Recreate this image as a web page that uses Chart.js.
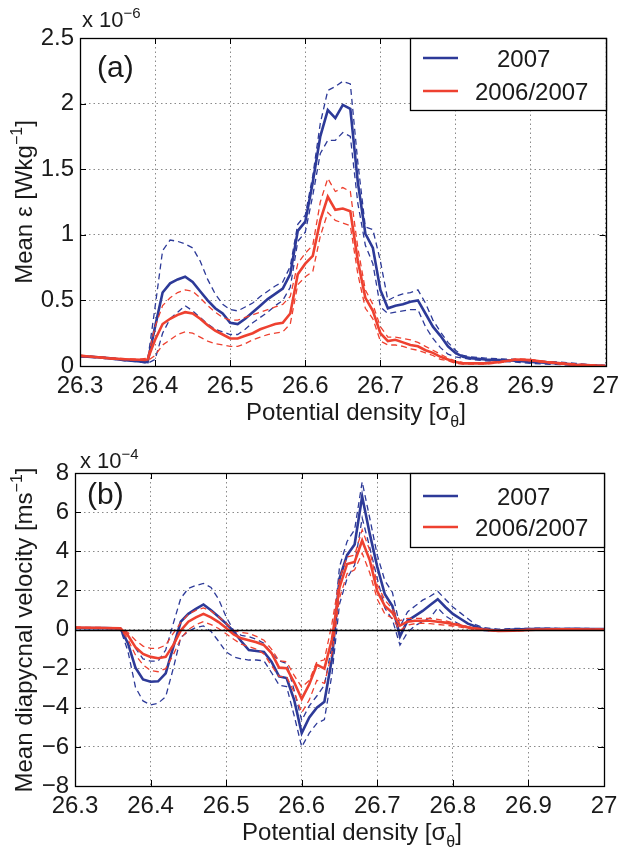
<!DOCTYPE html>
<html>
<head>
<meta charset="utf-8">
<script src="https://cdn.jsdelivr.net/npm/chart.js@4.4.0/dist/chart.umd.min.js"></script>
<style>
  html, body { margin: 0; padding: 0; background: #fff; }
  #wrap { position: relative; width: 625px; height: 849px; }
  #wrap canvas { position: absolute; left: 0; }
  #chartA { top: 0; }
  #chartB { top: 430px; }
</style>
</head>
<body>
<div id="wrap">
  <canvas id="chartA" width="625" height="430"></canvas>
  <canvas id="chartB" width="625" height="419"></canvas>
</div>
<script>
// ---- data ----
const seriesNames = ['2007', '2006/2007'];
const xTickValues = [26.3, 26.4, 26.5, 26.6, 26.7, 26.8, 26.9, 27];

// panel (a): mean dissipation, units of 1e-6 W/kg
const densityA = [26.30, 26.32, 26.34, 26.36, 26.38, 26.39,
  26.40, 26.41, 26.42, 26.43, 26.44, 26.45, 26.46, 26.47, 26.48, 26.49,
  26.50, 26.51, 26.52, 26.53, 26.54, 26.55, 26.56, 26.57, 26.58, 26.59,
  26.60, 26.61, 26.62, 26.63, 26.64, 26.65, 26.66, 26.67, 26.68, 26.69,
  26.70, 26.71, 26.72, 26.73, 26.74, 26.75, 26.76, 26.77, 26.78, 26.79,
  26.80, 26.81, 26.82,
  26.84, 26.86, 26.88, 26.90, 26.92, 26.94, 26.96, 26.98, 27.00];

const epsMean2007 = [0.075, 0.068, 0.058, 0.045, 0.035, 0.03,
  0.30, 0.56, 0.63, 0.66, 0.68, 0.64, 0.57, 0.50, 0.44, 0.40,
  0.33, 0.32, 0.36, 0.41, 0.46, 0.51, 0.55, 0.59, 0.70, 1.03,
  1.10, 1.40, 1.75, 1.95, 1.89, 1.99, 1.96, 1.40, 1.01, 0.90,
  0.58, 0.44, 0.46, 0.47, 0.49, 0.50, 0.40, 0.30, 0.23, 0.15,
  0.10, 0.07, 0.06,
  0.05, 0.045, 0.04, 0.03, 0.025, 0.02, 0.01, 0.005, 0.0];
const epsUpper2007 = [0.08, 0.072, 0.062, 0.05, 0.04, 0.04,
  0.45, 0.88, 0.96, 0.95, 0.93, 0.90, 0.80, 0.66, 0.55, 0.47,
  0.43, 0.42, 0.45, 0.48, 0.53, 0.57, 0.61, 0.64, 0.76, 1.08,
  1.15, 1.45, 1.85, 2.10, 2.13, 2.17, 2.15, 1.55, 1.06, 1.04,
  0.80, 0.50, 0.53, 0.55, 0.56, 0.58, 0.48, 0.35, 0.26, 0.18,
  0.12, 0.08, 0.07,
  0.06, 0.055, 0.05, 0.04, 0.035, 0.03, 0.02, 0.01, 0.005];
const epsLower2007 = [0.07, 0.064, 0.054, 0.04, 0.03, 0.02,
  0.05, 0.25, 0.36, 0.41, 0.46, 0.42, 0.37, 0.32, 0.28, 0.26,
  0.24, 0.24, 0.28, 0.33, 0.37, 0.41, 0.46, 0.50, 0.60, 0.95,
  1.02, 1.30, 1.62, 1.72, 1.72, 1.78, 1.75, 1.24, 0.92, 0.78,
  0.45, 0.40, 0.41, 0.42, 0.43, 0.43, 0.30, 0.21, 0.14, 0.09,
  0.07, 0.06, 0.05,
  0.04, 0.035, 0.03, 0.02, 0.015, 0.01, 0.005, 0.0, 0.0];

const epsMean0607 = [0.078, 0.068, 0.058, 0.052, 0.048, 0.05,
  0.20, 0.32, 0.36, 0.39, 0.41, 0.40, 0.36, 0.31, 0.27, 0.24,
  0.21, 0.21, 0.23, 0.25, 0.28, 0.30, 0.32, 0.33, 0.40, 0.70,
  0.78, 0.84, 1.11, 1.29, 1.19, 1.20, 1.18, 0.80, 0.52, 0.42,
  0.25, 0.19, 0.20, 0.18, 0.16, 0.15, 0.12, 0.10, 0.07, 0.05,
  0.03, 0.02, 0.02,
  0.02, 0.03, 0.05, 0.045, 0.03, 0.02, 0.01, 0.005, 0.0];
const epsUpper0607 = [0.082, 0.072, 0.062, 0.056, 0.052, 0.06,
  0.30, 0.46, 0.52, 0.56, 0.58, 0.57, 0.52, 0.46, 0.41, 0.37,
  0.35, 0.35, 0.37, 0.39, 0.41, 0.43, 0.45, 0.47, 0.53, 0.78,
  0.86, 0.92, 1.25, 1.43, 1.33, 1.36, 1.33, 0.90, 0.58, 0.47,
  0.30, 0.22, 0.22, 0.21, 0.20, 0.18, 0.15, 0.12, 0.09, 0.06,
  0.04, 0.025, 0.025,
  0.025, 0.035, 0.055, 0.05, 0.035, 0.025, 0.015, 0.01, 0.005];
const epsLower0607 = [0.074, 0.064, 0.055, 0.048, 0.044, 0.04,
  0.08, 0.16, 0.20, 0.24, 0.26, 0.25, 0.22, 0.19, 0.17, 0.16,
  0.15, 0.15, 0.17, 0.20, 0.22, 0.24, 0.25, 0.26, 0.32, 0.62,
  0.68, 0.72, 0.99, 1.17, 1.11, 1.09, 1.07, 0.70, 0.44, 0.36,
  0.19, 0.16, 0.16, 0.15, 0.13, 0.12, 0.10, 0.08, 0.05, 0.04,
  0.02, 0.015, 0.015,
  0.015, 0.025, 0.045, 0.04, 0.025, 0.015, 0.005, 0.0, 0.0];

// panel (b): mean diapycnal velocity, units of 1e-4 m/s
const densityB = [26.30, 26.32, 26.34, 26.36,
  26.37, 26.38, 26.39,
  26.40, 26.41, 26.42, 26.43, 26.44, 26.45, 26.46, 26.47, 26.48, 26.49,
  26.50, 26.51, 26.52, 26.53, 26.54, 26.55, 26.56, 26.57, 26.58, 26.59,
  26.60, 26.61, 26.62, 26.63, 26.64, 26.65, 26.66, 26.67, 26.68, 26.69,
  26.70, 26.71, 26.72, 26.73, 26.74, 26.75, 26.76, 26.77, 26.78, 26.79,
  26.80, 26.81, 26.82, 26.83, 26.84,
  26.86, 26.88, 26.90, 26.92, 26.94, 26.96, 26.98, 27.00];

const velMean2007 = [0.08, 0.07, 0.07, 0.05,
  -0.7, -1.95, -2.55,
  -2.67, -2.65, -2.24, -0.9, 0.40, 0.80, 1.05, 1.28, 0.98, 0.65,
  0.30, -0.10, -0.60, -1.05, -1.10, -1.15, -1.65, -2.40, -2.48, -3.60,
  -5.30, -4.50, -4.00, -3.69, -1.50, 2.60, 3.80, 4.35, 6.80, 4.90,
  3.20, 1.80, 1.20, -0.35, 0.45, 0.70, 0.95, 1.25, 1.55, 1.15,
  0.80, 0.55, 0.30, 0.15, 0.02,
  -0.05, 0.0, 0.02, 0.03, 0.02, 0.03, 0.02, 0.02];
const velUpper2007 = [0.10, 0.09, 0.09, 0.07,
  -0.25, -0.95, -1.50,
  -1.62, -1.62, -1.05, 0.30, 1.60, 2.10, 2.25, 2.36, 2.15, 1.55,
  0.65, -0.05, -0.30, -0.37, -0.50, -0.70, -1.20, -1.60, -1.73, -3.10,
  -4.65, -3.90, -3.40, -2.85, -0.80, 3.20, 4.50, 5.10, 7.55, 5.70,
  3.80, 2.50, 1.90, 0.15, 0.90, 1.20, 1.50, 1.70, 1.95, 1.55,
  1.15, 0.85, 0.55, 0.25, 0.10,
  0.02, 0.05, 0.06, 0.07, 0.06, 0.06, 0.05, 0.04];
const velLower2007 = [0.05, 0.05, 0.04, 0.03,
  -1.10, -2.95, -3.65,
  -3.85, -3.77, -3.43, -2.00, -0.40, -0.10, 0.10, 0.18, -0.10, -0.60,
  -1.15, -1.40, -1.50, -1.56, -1.56, -1.60, -2.20, -2.84, -2.92, -4.40,
  -6.00, -5.30, -4.80, -4.60, -2.30, 1.30, 2.60, 3.30, 5.70, 4.20,
  2.60, 1.10, 0.50, -0.80, -0.15, 0.20, 0.40, 0.60, 1.10, 0.70,
  0.45, 0.25, 0.12, 0.05, -0.05,
  -0.10, -0.05, -0.02, -0.01, -0.02, 0.0, -0.01, 0.0];

const velMean0607 = [0.10, 0.09, 0.08, 0.06,
  -0.30, -0.90, -1.25,
  -1.40, -1.47, -1.40, -0.80, -0.05, 0.40, 0.62, 0.80, 0.62, 0.38,
  0.08, -0.25, -0.45, -0.55, -0.65, -0.80, -1.20, -1.95, -1.98, -2.70,
  -3.55, -2.80, -1.80, -2.00, -0.50, 2.15, 3.35, 3.45, 4.55, 3.55,
  1.95, 1.20, 0.85, 0.20, 0.40, 0.45, 0.45, 0.45, 0.40, 0.35,
  0.28, 0.20, 0.10, 0.05, 0.0,
  -0.08, -0.06, -0.02, 0.0, 0.01, 0.01, 0.0, 0.0];
const velUpper0607 = [0.12, 0.11, 0.10, 0.08,
  -0.15, -0.55, -0.85,
  -0.96, -0.96, -0.80, -0.20, 0.35, 0.78, 0.98, 1.10, 0.95, 0.65,
  0.32, -0.05, -0.15, -0.20, -0.35, -0.55, -1.00, -1.60, -1.65, -2.35,
  -2.95, -2.60, -1.65, -1.55, 0.30, 2.60, 3.70, 3.80, 5.10, 4.05,
  2.30, 1.50, 1.05, 0.45, 0.57, 0.57, 0.57, 0.57, 0.52, 0.45,
  0.35, 0.25, 0.15, 0.08, 0.03,
  -0.05, -0.03, 0.0, 0.02, 0.03, 0.03, 0.02, 0.02];
const velLower0607 = [0.07, 0.07, 0.06, 0.04,
  -0.50, -1.30, -1.80,
  -2.10, -2.16, -2.00, -1.30, -0.45, 0.0, 0.25, 0.40, 0.25, 0.05,
  -0.22, -0.50, -0.75, -0.88, -1.00, -1.25, -1.85, -2.40, -2.42, -3.20,
  -4.25, -3.60, -2.60, -2.75, -1.20, 1.60, 2.85, 3.05, 3.90, 2.90,
  1.55, 0.80, 0.58, -0.05, 0.22, 0.30, 0.32, 0.30, 0.26, 0.22,
  0.18, 0.12, 0.05, 0.0, -0.03,
  -0.10, -0.08, -0.04, -0.02, -0.01, -0.01, -0.02, -0.02];

// ---- styling ----
const BLUE = '#2d3a98';
const RED = '#ee4130';
const FONT = '"Liberation Sans", Arial, Helvetica, sans-serif';

function pts(xs, ys) {
  return xs.map((x, i) => ({x: x, y: ys[i]}));
}

function lineSet(xs, ys, color, dashed, order) {
  return {
    data: pts(xs, ys),
    borderColor: color,
    borderWidth: dashed ? 1.3 : 2.6,
    borderDash: dashed ? [6, 4] : [],
    pointRadius: 0,
    tension: 0,
    fill: false,
    order: order,
  };
}

// draws text pieces with super/subscripts: parts = [[text, shift], ...]
function richText(ctx, parts, x, y, size, align) {
  const small = Math.round(size * 0.68);
  ctx.textBaseline = 'alphabetic';
  ctx.textAlign = 'left';
  const widths = parts.map(([t, s]) => {
    ctx.font = (s ? small : size) + 'px ' + FONT;
    return ctx.measureText(t).width;
  });
  const total = widths.reduce((a, b) => a + b, 0);
  let cx = align === 'center' ? x - total / 2 : (align === 'right' ? x - total : x);
  parts.forEach(([t, s], i) => {
    ctx.font = (s ? small : size) + 'px ' + FONT;
    const dy = s === 1 ? -size * 0.42 : (s === -1 ? size * 0.28 : 0);
    ctx.fillText(t, cx, y + dy);
    cx += widths[i];
  });
}

const panelDecor = {
  id: 'panelDecor',
  afterDatasetsDraw(chart, args, o) {
    const ctx = chart.ctx;
    const a = chart.chartArea;
    const xs = chart.scales.x, ys = chart.scales.y;
    ctx.save();
    ctx.strokeStyle = '#000';
    if (o.zeroLine) {
      const py = Math.round(ys.getPixelForValue(0)) + 0.5;
      ctx.lineWidth = 1.6;
      ctx.beginPath();
      ctx.moveTo(a.left, py);
      ctx.lineTo(a.right, py);
      ctx.stroke();
    }
    // inward tick marks
    ctx.lineWidth = 1;
    ctx.beginPath();
    xs.ticks.forEach(t => {
      const px = Math.round(xs.getPixelForValue(t.value)) + 0.5;
      ctx.moveTo(px, a.bottom); ctx.lineTo(px, a.bottom - 6);
      ctx.moveTo(px, a.top); ctx.lineTo(px, a.top + 6);
    });
    ys.ticks.forEach(t => {
      const py = Math.round(ys.getPixelForValue(t.value)) + 0.5;
      ctx.moveTo(a.left, py); ctx.lineTo(a.left + 6, py);
      ctx.moveTo(a.right, py); ctx.lineTo(a.right - 6, py);
    });
    ctx.stroke();
    // axes box
    ctx.lineWidth = 1.3;
    ctx.strokeRect(Math.round(a.left) + 0.5, Math.round(a.top) + 0.5,
      Math.round(a.width), Math.round(a.height));
    ctx.restore();
  },
  afterDraw(chart, args, o) {
    const ctx = chart.ctx;
    const a = chart.chartArea;
    ctx.save();
    ctx.fillStyle = '#1a1a1a';
    // exponent label
    richText(ctx, [['x 10', 0], ['\u2212' + o.exponent, 1]], o.expX, o.expY, 22, 'left');
    // panel letter
    ctx.font = '30px ' + FONT;
    ctx.textBaseline = 'alphabetic';
    ctx.fillText(o.letter, o.letterX, o.letterY);
    // axis titles
    richText(ctx, [['Potential density [\u03c3', 0], ['\u03b8', -1], [']', 0]],
      o.xTitleX, o.xTitleY, 24, 'center');
    ctx.save();
    ctx.translate(o.yTitleX, o.yTitleY);
    ctx.rotate(-Math.PI / 2);
    richText(ctx, o.yTitle, 0, 0, 24, 'center');
    ctx.restore();
    // legend box
    const L = o.legend;
    ctx.fillStyle = '#fff';
    ctx.fillRect(L.left, a.top, a.right - L.left, L.height);
    ctx.strokeStyle = '#000';
    ctx.lineWidth = 1.3;
    ctx.strokeRect(L.left + 0.5, Math.round(a.top) + 0.5, Math.round(a.right - L.left), L.height);
    [BLUE, RED].forEach((c, i) => {
      const yy = a.top + L.rows[i];
      ctx.strokeStyle = c;
      ctx.lineWidth = 2.6;
      ctx.beginPath();
      ctx.moveTo(L.left + 13, yy);
      ctx.lineTo(L.left + 48, yy);
      ctx.stroke();
      ctx.fillStyle = '#1a1a1a';
      ctx.font = '24px ' + FONT;
      ctx.textBaseline = 'alphabetic';
      ctx.fillText(seriesNames[i], L.textX[i], yy + 8.5);
    });
    ctx.restore();
  }
};

function makePanel(id, cfg) {
  const datasets = [
    lineSet(cfg.x, cfg.red[0], RED, false, 0),
    lineSet(cfg.x, cfg.red[1], RED, true, 1),
    lineSet(cfg.x, cfg.red[2], RED, true, 1),
    lineSet(cfg.x, cfg.blue[0], BLUE, false, 2),
    lineSet(cfg.x, cfg.blue[1], BLUE, true, 3),
    lineSet(cfg.x, cfg.blue[2], BLUE, true, 3),
  ];
  const canvas = document.getElementById(id);
  return new Chart(canvas, {
    type: 'line',
    data: {datasets: datasets},
    plugins: [panelDecor],
    options: {
      responsive: false,
      animation: false,
      events: [],
      layout: {padding: {top: cfg.top, right: cfg.right, left: 0, bottom: 0}},
      plugins: {
        legend: {display: false},
        tooltip: {enabled: false},
        panelDecor: cfg.decor,
      },
      scales: {
        x: {
          type: 'linear',
          min: 26.3, max: 27,
          afterFit: s => { s.height = cfg.xAxisH; },
          afterBuildTicks: s => { s.ticks = xTickValues.map(v => ({value: v})); },
          grid: {color: '#8a8a8a', lineWidth: 1, drawTicks: false},
          border: {display: false, dash: [1.5, 3]},
          ticks: {
            padding: 6, maxRotation: 0, autoSkip: false, color: '#1a1a1a',
            font: {family: FONT, size: 24},
            callback: v => String(Math.round(v * 10) / 10),
          },
        },
        y: {
          min: cfg.yMin, max: cfg.yMax,
          afterFit: s => { s.width = cfg.left; },
          afterBuildTicks: s => { s.ticks = cfg.yTicks.map(v => ({value: v})); },
          grid: {color: '#8a8a8a', lineWidth: 1, drawTicks: false},
          border: {display: false, dash: [1.5, 3]},
          ticks: {
            padding: 6, color: '#1a1a1a',
            font: {family: FONT, size: 24},
            callback: v => String(v).replace('-', '\u2212'),
          },
        },
      },
    },
  });
}

const epsTicks = [0, 0.5, 1, 1.5, 2, 2.5];
const velTicks = [-8, -6, -4, -2, 0, 2, 4, 6, 8];

makePanel('chartA', {
  x: densityA,
  blue: [epsMean2007, epsUpper2007, epsLower2007],
  red: [epsMean0607, epsUpper0607, epsLower0607],
  yMin: 0, yMax: 2.5, yTicks: epsTicks,
  top: 38, right: 17, left: 80, xAxisH: 64,
  decor: {
    zeroLine: false,
    exponent: '6', expX: 82, expY: 27,
    letter: '(a)', letterX: 97, letterY: 77,
    xTitleX: 356, xTitleY: 420,
    yTitleX: 32, yTitleY: 202,
    yTitle: [['Mean \u03b5 [Wkg', 0], ['\u22121', 1], [']', 0]],
    legend: {left: 410, height: 72, rows: [20, 53], textX: [497, 475]},
  },
});

makePanel('chartB', {
  x: densityB,
  blue: [velMean2007, velUpper2007, velLower2007],
  red: [velMean0607, velUpper0607, velLower0607],
  yMin: -8, yMax: 8, yTicks: velTicks,
  top: 43, right: 21, left: 75, xAxisH: 63,
  decor: {
    zeroLine: true,
    exponent: '4', expX: 80, expY: 38,
    letter: '(b)', letterX: 87, letterY: 74,
    xTitleX: 352, xTitleY: 410,
    yTitleX: 32, yTitleY: 200,
    yTitle: [['Mean diapycnal velocity [ms', 0], ['\u22121', 1], [']', 0]],
    legend: {left: 410, height: 74, rows: [23, 54], textX: [497, 475]},
  },
});
</script>
</body>
</html>
